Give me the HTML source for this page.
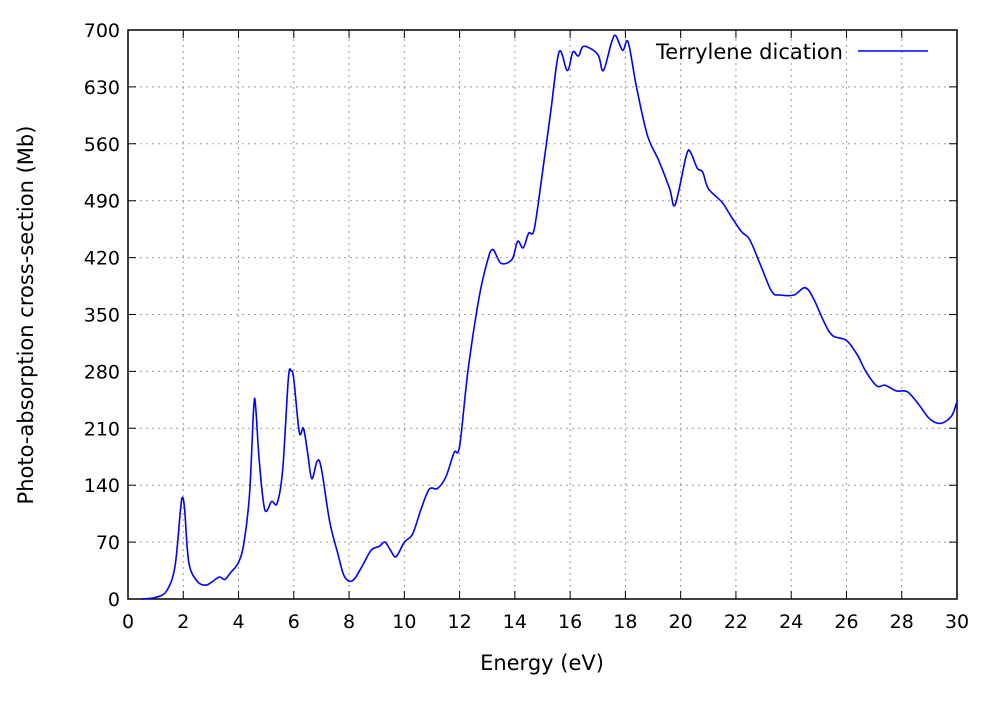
<!DOCTYPE html>
<html><head><meta charset="utf-8"><style>
body{margin:0;background:#fff;}
svg text{font-family:"DejaVu Sans","Liberation Sans",sans-serif;font-size:19px;fill:#000;}
svg text.big{font-size:21px;}
</style></head><body>
<svg id="chart" width="1000" height="700" xmlns="http://www.w3.org/2000/svg">
<g id="grid"></g>
<g id="axes"></g>
<path id="series" fill="none" stroke="#0000ff" stroke-width="1.6"/>
<text class="big" transform="translate(33,315) rotate(-90)" text-anchor="middle">Photo-absorption cross-section (Mb)</text>
<text class="big" x="542" y="670" text-anchor="middle">Energy (eV)</text>
<g>
<text class="big" x="843" y="59" text-anchor="end">Terrylene dication</text>
<line x1="858" y1="51" x2="928" y2="51" stroke="#0000ff" stroke-width="1.6"/>
</g>
</svg>
<script>
const energies=[0.5,1.0,1.4,1.7,1.9,1.97,2.05,2.2,2.5,2.8,3.0,3.3,3.5,3.7,4.0,4.2,4.4,4.55,4.62,4.75,4.95,5.2,5.4,5.6,5.8,5.9,6.0,6.2,6.35,6.5,6.65,6.85,7.0,7.3,7.6,7.8,8.0,8.2,8.5,8.8,9.1,9.3,9.5,9.7,10.0,10.3,10.6,10.9,11.2,11.5,11.8,12.0,12.3,12.7,13.0,13.2,13.5,13.9,14.1,14.3,14.5,14.7,15.0,15.3,15.6,15.9,16.1,16.3,16.5,17.0,17.2,17.5,17.65,17.9,18.1,18.4,18.8,19.2,19.6,19.8,20.2,20.35,20.6,20.8,21.0,21.5,21.8,22.2,22.5,22.9,23.3,23.6,24.1,24.5,24.8,25.2,25.5,26.0,26.4,26.7,27.1,27.4,27.8,28.2,28.6,29.0,29.4,29.8,30];
const crossSection=[0,2,10,40,110,125,110,45,22,17,20,27,24,32,45,70,130,236,236,170,110,120,118,160,270,281,270,205,210,180,148,170,160,95,55,30,22,25,42,60,65,70,60,52,70,80,110,135,136,150,180,188,280,370,415,430,413,418,440,432,450,455,525,600,673,650,673,668,680,670,650,685,693,675,685,630,570,540,505,485,545,550,530,525,505,488,472,452,442,410,378,374,374,383,370,340,324,318,300,280,262,263,256,255,240,222,216,225,243];
const xTicks=[0,2,4,6,8,10,12,14,16,18,20,22,24,26,28,30];
const yTicks=[0,70,140,210,280,350,420,490,560,630,700];
const X0=128,X1=957,Y0=599,Y1=30;
const sx=v=>X0+(v-0)/(30-0)*(X1-X0);
const sy=v=>Y0-(v-0)/(700-0)*(Y0-Y1);
const NS="http://www.w3.org/2000/svg";
const grid=document.getElementById('grid'),axes=document.getElementById('axes');
function mk(tag,attrs,parent){const e=document.createElementNS(NS,tag);for(const k in attrs)e.setAttribute(k,attrs[k]);parent.appendChild(e);return e;}
xTicks.forEach(t=>{const x=sx(t);
 if(t>0&&t<30){const g=mk('line',{x1:x,y1:Y0,x2:x,y2:Y1,stroke:'#999','stroke-dasharray':'2,4','stroke-width':1},grid);
 
 }
 const tk=mk('path',{d:`M${x},${Y0}v-8M${x},${Y1}v8`,stroke:'#000','stroke-width':1},axes);
 
 
 const tx=mk('text',{x:x,y:Y0+29,'text-anchor':'middle'},axes);tx.textContent=t;
 
 
});
yTicks.forEach(t=>{const y=sy(t);
 if(t>0&&t<700){const g=mk('line',{x1:X0,y1:y,x2:X1,y2:y,stroke:'#999','stroke-dasharray':'2,4','stroke-width':1},grid);
 
 }
 const tk=mk('path',{d:`M${X0},${y}h8M${X1},${y}h-8`,stroke:'#000','stroke-width':1},axes);
 
 
 const tx=mk('text',{x:X0-8,y:y+7,'text-anchor':'end'},axes);tx.textContent=t;
 
 
});
const frame=mk('rect',{x:X0,y:Y1,width:X1-X0,height:Y0-Y1,fill:'none',stroke:'#000','stroke-width':1.5},axes);


const pts=energies.map((e,i)=>[sx(e),sy(crossSection[i])]);
let d=`M${pts[0][0]},${pts[0][1]}`;
for(let i=0;i<pts.length-1;i++){const p0=pts[Math.max(0,i-1)],p1=pts[i],p2=pts[i+1],p3=pts[Math.min(pts.length-1,i+2)];
 const c1=[p1[0]+(p2[0]-p0[0])/6,p1[1]+(p2[1]-p0[1])/6],c2=[p2[0]-(p3[0]-p1[0])/6,p2[1]-(p3[1]-p1[1])/6];
 d+=`C${c1[0]},${c1[1]} ${c2[0]},${c2[1]} ${p2[0]},${p2[1]}`;}
document.getElementById('series').setAttribute('d',d);
</script>
</body></html>
